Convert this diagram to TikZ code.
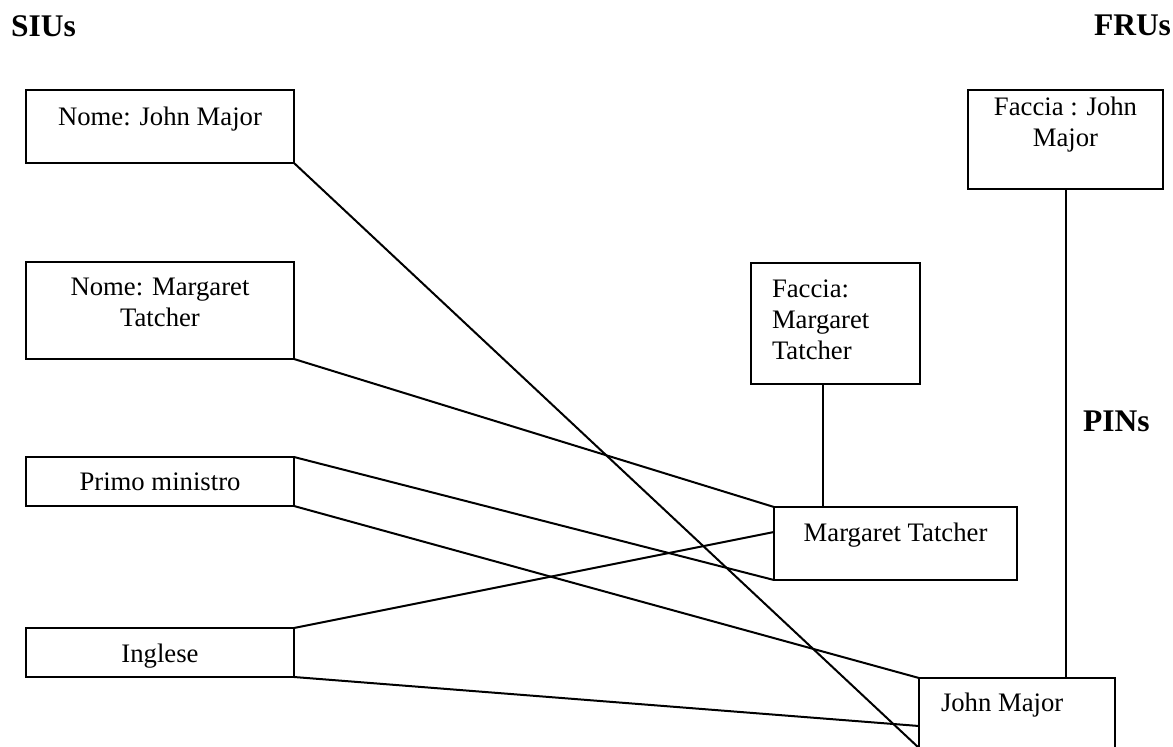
\documentclass[tikz,border=0pt]{standalone}
\usepackage{fontspec}
\setmainfont{Liberation Serif}
\usetikzlibrary{calc}
\newcommand{\btxt}[5]{\parbox[c][#2pt][t]{#1pt}{#5\rule{0pt}{#3pt}#4\par}}
\begin{document}
\begin{tikzpicture}[x=1pt,y=-1pt,line width=2pt,
  box/.style={draw, rectangle, inner sep=0pt, outer sep=0pt, anchor=north west,
    font=\fontsize{26.7}{31}\selectfont},
  lab/.style={inner sep=0pt, anchor=base west, font=\fontsize{31.5}{36}\selectfont\bfseries},
  link/.style={line width=2pt}]
\useasboundingbox (0,0) rectangle (1173,747);
\path[fill=white] (0,0) rectangle (1173,747);
% titles
\node[lab] (sius) at (10,36) {SIUs};
\node[lab] (frus) at (1093,35) {FRUs};
\node[lab] (pins) at (1082,431) {PINs};
% SIU boxes
\node[box] (nmj) at (26,90) {\btxt{268}{73}{35}{Nome: John Major}{\centering}};
\node[box] (nmt) at (26,262) {\btxt{268}{97}{33}{Nome: Margaret\\Tatcher}{\centering}};
\node[box] (pm) at (26,457) {\btxt{268}{49}{33}{Primo ministro}{\centering}};
\node[box] (ing) at (26,628) {\btxt{268}{49}{34}{Inglese}{\centering}};
% FRU boxes
\node[box] (fmt) at (751,263) {\btxt{169}{121}{34}{Faccia:\\Margaret\\Tatcher}{\raggedright\leftskip=21pt}};
\node[box] (fjm) at (968,90) {\btxt{195}{99}{25}{Faccia : John\\Major}{\centering}};
% PIN boxes
\node[box] (mt) at (774,507) {\btxt{243}{73}{34}{Margaret Tatcher}{\centering}};
\node[box] (jm) at (919,678) {\btxt{196}{70}{33}{John Major}{\raggedright\leftskip=22pt}};
% connectors
\draw[link] (nmj.south east) -- (jm.south west);
\draw[link] (nmt.south east) -- (mt.north west);
\draw[link] (pm.north east) -- (mt.south west);
\draw[link] (pm.south east) -- (jm.north west);
\draw[link] (ing.north east) -- ([yshift=-25pt]mt.north west);
\draw[link] (ing.south east) -- ([yshift=-48pt]jm.north west);
\coordinate (fmtb) at ([xshift=72pt]fmt.south west);
\draw[link] (fmtb) -- (fmtb |- mt.north);
\draw[link] (fjm.south) -- (fjm.south |- jm.north);
\end{tikzpicture}
\end{document}
